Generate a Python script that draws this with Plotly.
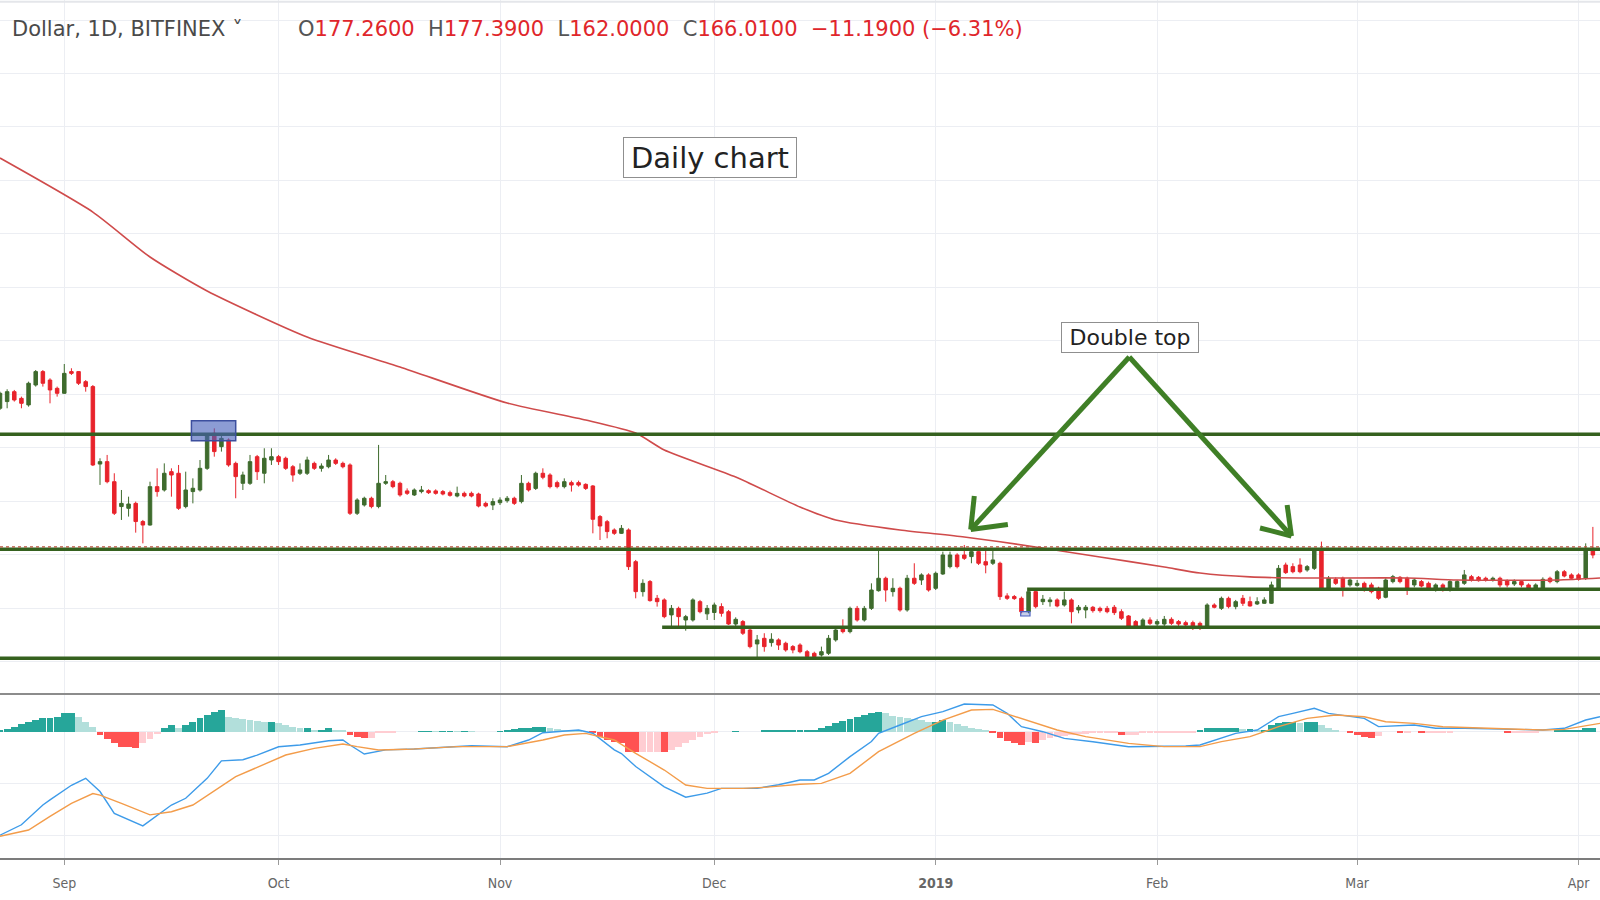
import pandas as pd
import plotly.graph_objects as go
from plotly.subplots import make_subplots

# ---------------- data ----------------
dates = pd.date_range("2018-08-23", "2019-04-03", freq="D")

open_ = [269.7, 274.7, 282.1, 277.1, 272.2, 287.1, 297.1, 290.8, 284.6, 280.9,
         297.1, 297.1, 289.6, 285.9, 228.0, 229.8, 214.8, 196.2, 194.9, 198.6,
         185.0, 182.4, 211.1, 208.6, 222.3, 221.1, 196.2, 207.4, 208.6, 224.8,
         251.0, 241.0, 246.0, 228.5, 213.6, 213.6, 233.5, 221.1, 231.0, 233.5,
         232.3, 226.0, 221.1, 221.1, 228.5, 224.8, 226.0, 231.0, 228.5, 227.3,
         191.2, 197.4, 202.4, 196.2, 213.6, 214.8, 213.6, 207.9, 204.9, 207.4,
         208.1, 207.9, 207.4, 206.6, 204.1, 206.1, 206.1, 205.6, 198.6, 197.4,
         199.1, 200.6, 202.4, 199.9, 213.6, 209.8, 221.1, 219.8, 214.1, 211.1,
         214.1, 214.1, 212.8, 211.6, 188.7, 184.9, 178.7, 176.2, 178.7, 155.0,
         132.6, 140.1, 127.6, 126.4, 115.2, 120.1, 111.4, 111.4, 125.1, 116.0,
         117.0, 121.4, 117.6, 108.4, 110.2, 103.9, 93.5, 97.7, 94.5, 96.5,
         94.0, 91.5, 92.7, 87.7, 86.5, 85.2, 86.5, 96.5, 106.4, 102.7,
         120.1, 111.4, 120.1, 133.3, 142.6, 132.6, 135.1, 118.9, 142.6, 141.3,
         145.1, 135.1, 145.8, 151.3, 160.0, 160.0, 158.8, 162.5, 155.0, 153.8,
         153.8, 129.4, 128.9, 127.6, 117.6, 132.6, 125.1, 125.1, 126.4, 122.6,
         126.4, 118.9, 118.9, 120.9, 120.1, 120.1, 120.9, 117.6, 114.4, 110.2,
         106.9, 111.4, 108.4, 108.4, 111.9, 110.2, 109.4, 109.4, 108.9, 106.4,
         122.6, 120.1, 127.6, 121.4, 127.6, 125.1, 123.4, 123.9, 123.9, 135.1,
         152.5, 151.3, 152.5, 148.8, 150.0, 163.7, 135.1, 141.8, 142.6, 137.6,
         137.3, 138.8, 137.6, 135.1, 128.4, 140.1, 143.3, 142.6, 137.6, 140.1,
         138.8, 135.1, 137.6, 133.8, 135.8, 138.8, 143.8, 143.3, 142.6, 141.3,
         142.6, 140.8, 138.3, 140.1, 137.6, 135.1, 134.3, 142.6, 140.1, 147.5,
         145.1, 145.1, 142.6, 165.0]
high = [282.1, 283.9, 283.4, 278.4, 289.6, 298.3, 298.3, 292.1, 285.9, 302.8,
        299.6, 297.5, 290.8, 287.1, 232.3, 234.8, 221.1, 208.6, 203.6, 199.9,
        186.2, 214.8, 224.8, 228.5, 224.8, 227.3, 222.3, 217.3, 231.0, 251.0,
        254.7, 249.7, 247.2, 229.8, 222.3, 234.8, 234.8, 239.8, 239.8, 234.8,
        233.5, 227.3, 228.5, 233.5, 229.8, 228.5, 234.8, 232.3, 229.8, 228.5,
        202.4, 203.6, 203.6, 242.3, 219.8, 216.1, 214.8, 209.8, 209.8, 211.6,
        209.1, 209.1, 208.6, 208.1, 211.1, 207.4, 207.4, 206.6, 199.9, 202.4,
        203.1, 204.1, 203.6, 219.8, 214.8, 222.3, 224.8, 221.1, 215.6, 217.3,
        215.6, 215.6, 213.6, 212.3, 189.9, 186.2, 179.9, 182.4, 179.9, 156.3,
        141.8, 141.3, 130.1, 127.6, 122.6, 121.4, 115.2, 127.6, 126.4, 122.6,
        124.4, 123.9, 118.9, 113.4, 111.4, 105.2, 100.2, 101.5, 101.5, 97.7,
        95.2, 92.7, 94.0, 89.0, 87.7, 91.5, 100.2, 106.4, 111.9, 121.4,
        121.9, 121.9, 138.8, 163.8, 143.8, 142.6, 136.3, 145.1, 153.8, 146.3,
        146.3, 147.6, 162.5, 162.5, 161.3, 167.5, 165.0, 163.8, 165.0, 164.2,
        155.0, 131.4, 130.1, 128.9, 135.1, 133.8, 130.1, 128.4, 127.6, 132.6,
        127.6, 122.6, 122.6, 121.9, 121.4, 121.9, 122.6, 119.4, 115.1, 111.4,
        112.7, 113.4, 111.9, 114.4, 113.4, 111.4, 110.9, 110.9, 110.2, 123.9,
        123.9, 128.9, 128.9, 126.4, 130.1, 128.9, 128.4, 128.4, 140.1, 152.5,
        154.3, 153.8, 157.5, 152.5, 165.0, 170.0, 144.3, 143.3, 143.8, 142.6,
        141.3, 140.1, 139.3, 136.3, 142.6, 145.1, 144.3, 143.8, 142.6, 141.3,
        140.1, 138.8, 138.8, 141.3, 141.3, 148.8, 145.1, 144.3, 143.8, 143.8,
        143.8, 141.8, 141.8, 141.3, 138.8, 138.8, 143.3, 143.8, 148.8, 148.8,
        146.3, 146.3, 168.7, 181.0]
low = [268.4, 269.7, 274.7, 269.7, 270.9, 285.9, 285.9, 273.4, 278.4, 280.5,
       294.6, 287.1, 282.1, 226.5, 212.4, 213.6, 189.9, 186.2, 188.7, 176.7,
       168.7, 182.0, 203.6, 207.4, 203.6, 193.7, 194.9, 198.6, 207.4, 223.6,
       233.5, 237.3, 226.0, 202.4, 208.6, 212.4, 216.1, 213.6, 227.3, 227.3,
       223.6, 214.8, 219.8, 219.8, 223.6, 222.3, 224.8, 227.3, 224.8, 189.9,
       189.9, 196.2, 194.9, 194.9, 212.4, 209.9, 203.6, 204.9, 204.1, 206.1,
       205.6, 205.1, 204.6, 203.6, 203.1, 203.1, 203.1, 195.6, 195.6, 193.6,
       197.4, 199.1, 197.4, 198.6, 207.4, 208.6, 216.6, 209.8, 209.8, 209.8,
       207.4, 211.1, 208.6, 176.2, 171.2, 172.5, 175.0, 175.7, 148.8, 127.6,
       128.9, 125.1, 121.4, 112.7, 106.4, 106.4, 103.4, 110.2, 116.4, 111.4,
       111.4, 113.9, 107.7, 106.4, 100.2, 90.2, 82.7, 87.7, 91.5, 89.0,
       87.7, 86.5, 86.5, 83.5, 83.5, 84.0, 85.2, 95.2, 101.4, 101.4,
       110.2, 110.2, 118.9, 132.6, 125.1, 128.9, 117.6, 117.6, 137.6, 137.6,
       132.6, 133.8, 145.1, 150.0, 150.0, 156.3, 153.8, 152.5, 146.3, 152.5,
       126.4, 126.4, 126.4, 116.4, 116.4, 120.1, 122.6, 121.4, 120.9, 121.4,
       108.9, 116.4, 112.7, 116.9, 116.9, 116.4, 115.1, 111.4, 105.2, 105.9,
       106.4, 107.7, 106.9, 106.9, 107.7, 106.9, 106.9, 103.9, 103.9, 105.2,
       120.1, 118.9, 120.1, 119.4, 121.9, 121.4, 122.6, 123.4, 123.4, 133.8,
       145.8, 146.3, 146.3, 147.5, 148.8, 133.8, 133.8, 137.6, 128.9, 136.3,
       136.3, 132.6, 131.3, 126.4, 127.6, 138.8, 138.8, 130.1, 135.8, 135.8,
       133.8, 132.6, 132.6, 132.6, 134.3, 137.6, 140.1, 140.1, 140.1, 140.1,
       135.8, 135.8, 136.8, 135.8, 133.3, 133.8, 133.8, 138.8, 138.8, 143.3,
       141.8, 140.8, 141.3, 157.5]
close = [280.9, 282.1, 275.9, 273.4, 288.4, 297.1, 288.4, 283.4, 280.9, 295.8,
         295.8, 288.4, 285.9, 227.3, 229.8, 214.8, 191.2, 198.6, 198.1, 185.0,
         182.4, 211.1, 207.4, 221.1, 219.8, 194.9, 208.6, 209.9, 224.8, 249.7,
         237.3, 247.2, 227.3, 218.6, 219.8, 229.8, 222.3, 232.3, 233.5, 229.8,
         224.8, 219.8, 223.6, 231.0, 224.8, 226.5, 231.0, 228.5, 226.0, 191.2,
         201.1, 202.4, 196.2, 213.6, 214.8, 211.1, 204.9, 206.1, 208.6, 208.6,
         206.6, 206.1, 205.6, 204.6, 206.1, 204.1, 204.1, 196.6, 196.6, 199.9,
         201.1, 202.4, 198.6, 213.6, 208.6, 221.1, 218.1, 211.1, 211.1, 214.8,
         212.3, 212.3, 209.8, 186.7, 181.7, 177.5, 176.2, 179.9, 151.3, 132.6,
         138.8, 125.9, 125.1, 113.9, 120.1, 113.9, 113.9, 126.4, 117.6, 120.1,
         122.6, 116.4, 108.4, 111.9, 101.5, 91.5, 96.5, 91.5, 97.0, 92.7,
         89.0, 89.0, 87.7, 84.0, 84.0, 87.7, 97.7, 103.9, 102.7, 120.1,
         111.4, 120.1, 133.8, 142.6, 133.8, 135.1, 118.9, 142.6, 138.8, 145.1,
         133.8, 146.3, 160.0, 160.0, 151.3, 157.5, 162.5, 153.8, 152.5, 156.3,
         128.9, 127.6, 127.4, 117.6, 132.6, 121.4, 126.9, 126.4, 121.9, 126.4,
         117.6, 120.9, 120.9, 118.4, 118.4, 117.6, 116.9, 112.7, 106.4, 106.9,
         111.4, 108.9, 110.2, 111.9, 108.9, 108.4, 107.7, 105.2, 105.2, 122.6,
         120.9, 127.6, 121.4, 125.1, 123.9, 121.9, 125.1, 126.4, 137.6, 150.0,
         146.8, 147.5, 147.5, 151.3, 163.7, 135.1, 142.6, 138.8, 135.8, 141.3,
         138.8, 133.8, 132.6, 127.6, 141.3, 143.8, 140.1, 133.8, 141.3, 136.8,
         135.1, 137.6, 133.8, 140.1, 140.1, 145.1, 141.3, 140.8, 141.3, 142.6,
         137.6, 137.6, 140.1, 137.6, 134.3, 137.6, 141.8, 140.1, 147.5, 144.3,
         142.6, 141.8, 165.0, 160.0]

macd_hist = [0.19, 0.51, 0.96, 1.41, 1.92, 2.31, 2.56, 2.69, 2.88, 3.53,
             3.53, 2.88, 1.92, 0.96, -0.64, -1.41, -2.24, -2.88, -3.01, -3.08,
             -2.24, -1.41, -0.51, 0.64, 1.28, 0.64, 1.28, 1.92, 2.56, 3.21,
             3.85, 4.17, 2.88, 2.56, 2.44, 2.24, 2.05, 1.92, 1.92, 1.60,
             1.28, 0.96, 0.64, 0.64, 0.32, 0.32, 0.64, 0.32, 0.26, -0.64,
             -0.96, -1.28, -1.15, -0.32, -0.26, -0.13, 0.0, 0.0, 0.0, 0.13,
             0.13, 0.06, 0.13, 0.13, 0.06, 0.13, 0.06, 0.0, 0.0, 0.0,
             0.13, 0.32, 0.51, 0.64, 0.77, 0.96, 0.96, 0.64, 0.51, 0.32,
             0.19, 0.06, 0.0, -0.32, -0.96, -1.60, -1.92, -2.24, -3.85, -3.97,
             -3.85, -3.85, -3.85, -3.97, -3.53, -2.88, -2.24, -1.60, -0.96, -0.51,
             -0.19, 0.0, 0.0, 0.13, 0.0, 0.0, 0.0, 0.19, 0.19, 0.19,
             0.19, 0.19, 0.19, 0.19, 0.32, 0.64, 1.15, 1.60, 2.05, 2.44,
             2.82, 3.21, 3.53, 3.85, 3.53, 3.08, 2.88, 2.56, 2.44, 2.24,
             1.92, 1.92, 2.24, 1.79, 1.41, 1.03, 0.77, 0.51, 0.32, -0.32,
             -1.15, -1.79, -2.24, -2.56, -1.92, -2.24, -1.60, -1.28, -0.96, -0.77,
             -0.64, -0.51, -0.38, -0.32, -0.26, -0.19, -0.19, -0.64, -0.64, -0.64,
             -0.19, -0.19, -0.19, -0.13, -0.13, -0.13, -0.13, -0.06, 0.32, 0.64,
             0.64, 0.64, 0.64, 0.64, 0.51, 0.51, 0.38, 0.38, 1.28, 1.60,
             1.79, 1.92, 1.60, 1.92, 1.92, 1.28, 0.77, 0.32, 0.0, -0.32,
             -0.64, -0.96, -1.28, -0.77, 0.0, 0.0, -0.32, -0.32, 0.0, -0.32,
             -0.32, -0.32, -0.32, -0.32, 0.0, 0.0, 0.0, 0.0, 0.0, 0.0,
             0.0, -0.32, -0.32, -0.32, -0.32, -0.32, 0.0, 0.0, 0.19, 0.32,
             0.32, 0.32, 0.64, 0.64]

ma_dates = ["2018-08-23", "2018-09-05", "2018-09-13", "2018-09-21", "2018-10-05",
            "2018-10-18", "2018-11-02", "2018-11-13", "2018-11-20", "2018-11-24",
            "2018-12-04", "2018-12-13", "2018-12-18", "2018-12-27", "2019-01-05",
            "2019-01-15", "2019-01-24", "2019-02-02", "2019-02-07", "2019-02-14",
            "2019-02-21", "2019-03-08", "2019-03-15", "2019-03-29", "2019-04-04"]
ma_values = [456.8, 416.4, 382.8, 357.4, 323.0, 300.6, 273.6, 260.9, 251.2, 238.5,
             218.3, 195.9, 186.2, 178.7, 173.5, 166.0, 158.5, 151.0, 146.5, 143.6,
             142.8, 142.8, 141.3, 141.3, 142.8]

macd_dates = ["2018-08-23", "2018-08-26", "2018-08-29", "2018-08-30", "2018-09-02",
              "2018-09-04", "2018-09-06", "2018-09-08", "2018-09-12", "2018-09-16",
              "2018-09-18", "2018-09-21", "2018-09-23", "2018-09-26", "2018-09-28",
              "2018-10-01", "2018-10-04", "2018-10-08", "2018-10-10", "2018-10-11",
              "2018-10-13", "2018-10-16", "2018-10-20", "2018-10-23", "2018-10-28",
              "2018-11-02", "2018-11-05", "2018-11-07", "2018-11-10", "2018-11-12",
              "2018-11-14", "2018-11-17", "2018-11-18", "2018-11-20", "2018-11-24",
              "2018-11-27", "2018-11-30", "2018-12-02", "2018-12-07", "2018-12-10",
              "2018-12-13", "2018-12-15", "2018-12-17", "2018-12-20", "2018-12-23",
              "2018-12-24", "2018-12-27", "2018-12-30", "2019-01-02", "2019-01-05",
              "2019-01-09", "2019-01-11", "2019-01-13", "2019-01-16", "2019-01-19",
              "2019-01-23", "2019-01-28", "2019-02-01", "2019-02-05", "2019-02-07",
              "2019-02-10", "2019-02-12", "2019-02-15", "2019-02-18", "2019-02-20",
              "2019-02-23", "2019-02-25", "2019-03-02", "2019-03-04", "2019-03-09",
              "2019-03-12", "2019-03-16", "2019-03-23", "2019-03-27", "2019-03-30",
              "2019-04-02", "2019-04-04"]
macd_values = [-19.9, -17.9, -14.1, -13.1, -10.3, -8.97, -11.5, -15.7, -18.1, -14.1,
               -12.8, -8.97, -5.6, -5.4, -4.5, -2.9, -2.56, -1.73, -1.6, -2.56,
               -4.3, -3.5, -3.33, -3.07, -2.69, -2.88, -1.6, -0.19, 0.2, 0.33,
               -0.3, -3.5, -4.2, -6.7, -10.6, -12.6, -11.8, -10.9, -10.9, -10.2,
               -9.29, -9.29, -8.0, -4.8, -1.9, -0.32, 1.29, 2.89, 3.85, 5.33,
               5.13, 3.53, 0.97, 0.0, -1.28, -1.92, -2.88, -2.88, -2.75, -2.56,
               -1.28, -0.32, 0.33, 2.89, 3.53, 4.49, 3.53, 2.56, 0.97, 1.29,
               0.65, 0.65, 0.45, 0.33, 0.65, 2.24, 2.89]

signal_dates = ["2018-08-23", "2018-08-27", "2018-08-30", "2018-09-02", "2018-09-05",
                "2018-09-06", "2018-09-09", "2018-09-13", "2018-09-16", "2018-09-19",
                "2018-09-25", "2018-09-28", "2018-10-02", "2018-10-06", "2018-10-10",
                "2018-10-12", "2018-10-15", "2018-10-19", "2018-10-26", "2018-11-02",
                "2018-11-07", "2018-11-10", "2018-11-13", "2018-11-17", "2018-11-20",
                "2018-11-24", "2018-11-27", "2018-11-30", "2018-12-05", "2018-12-08",
                "2018-12-13", "2018-12-16", "2018-12-20", "2018-12-24", "2018-12-29",
                "2019-01-02", "2019-01-06", "2019-01-09", "2019-01-13", "2019-01-18",
                "2019-01-22", "2019-01-28", "2019-02-02", "2019-02-07", "2019-02-10",
                "2019-02-14", "2019-02-18", "2019-02-22", "2019-02-26", "2019-03-02",
                "2019-03-05", "2019-03-09", "2019-03-13", "2019-03-19", "2019-03-27",
                "2019-03-30", "2019-04-04"]
signal_values = [-20.1, -18.9, -16.3, -13.8, -11.9, -12.2, -13.8, -16.0, -15.4, -14.1,
                 -8.65, -6.85, -4.48, -3.2, -2.37, -2.88, -3.52, -3.39, -2.88, -2.88,
                 -1.6, -0.64, -0.32, -1.6, -4.16, -7.37, -10.25, -10.9, -10.9, -10.7,
                 -10.1, -9.93, -8.0, -3.85, -0.32, 2.24, 4.17, 4.3, 2.56, 0.32,
                 -0.96, -2.24, -2.88, -2.88, -1.92, -0.96, 0.97, 2.56, 3.2, 2.88,
                 1.92, 1.6, 0.96, 0.65, 0.33, 0.45, 1.6]

level_prices = [250.3, 164.3, 134.4, 106.0, 82.8]
level_starts = ["2018-08-23", "2018-08-23", "2019-01-13 19:12", "2018-11-23 16:48", "2018-08-23"]
last_price = 166.01

month_ticks = ["2018-09-01", "2018-10-01", "2018-11-01", "2018-12-01",
               "2019-01-01", "2019-02-01", "2019-03-01", "2019-04-01"]
month_labels = ["Sep", "Oct", "Nov", "Dec", "<b>2019</b>", "Feb", "Mar", "Apr"]
price_grid = [80, 120, 160, 200, 240, 280, 320, 360, 400, 440, 480, 520, 560]
macd_grid = [0, -10, -20]

# ---------------- styling ----------------
X0, X1 = "2018-08-23 00:00", "2019-04-04 00:00"
UP, DOWN = "#3e6b2d", "#e8232b"
LEVEL = "#35611f"
ARROW = "#3f7f26"
GRID = "#eceef3"
SPLIT = 0.19209

fig = make_subplots(rows=2, cols=1, shared_xaxes=True, vertical_spacing=0)

fig.add_trace(go.Candlestick(
    x=dates, open=open_, high=high, low=low, close=close,
    increasing=dict(line=dict(color=UP, width=1), fillcolor=UP),
    decreasing=dict(line=dict(color=DOWN, width=1), fillcolor=DOWN),
    whiskerwidth=0, hoverinfo="skip"), row=1, col=1)

fig.add_trace(go.Scatter(x=ma_dates, y=ma_values, mode="lines",
                         line=dict(color="#cf4b4b", width=1.6, shape="spline", smoothing=0.6),
                         hoverinfo="skip"), row=1, col=1)

hist_colors = []
prev = 0.0
for h in macd_hist:
    if h >= 0:
        hist_colors.append("#26a69a" if h >= prev else "#b2dfdb")
    else:
        hist_colors.append("#ff5252" if h < prev else "#ffcdd2")
    prev = h

fig.add_trace(go.Bar(x=dates, y=macd_hist, marker=dict(color=hist_colors, line=dict(width=0)),
                     width=86400000 * 0.95, hoverinfo="skip"), row=2, col=1)
fig.add_trace(go.Scatter(x=macd_dates, y=macd_values, mode="lines",
                         line=dict(color="#3d9be9", width=1.4), hoverinfo="skip"), row=2, col=1)
fig.add_trace(go.Scatter(x=signal_dates, y=signal_values, mode="lines",
                         line=dict(color="#f39c4a", width=1.4), hoverinfo="skip"), row=2, col=1)

shapes = []
# horizontal support / resistance lines
for start, lvl in zip(level_starts, level_prices):
    shapes.append(dict(type="line", xref="x", yref="y", x0=start, x1=X1, y0=lvl, y1=lvl,
                       line=dict(color=LEVEL, width=3.5)))
# last price dotted line
shapes.append(dict(type="line", xref="x", yref="y", x0=X0, x1=X1, y0=last_price, y1=last_price,
                   line=dict(color="#b8523c", width=1.2, dash="dot")))
# blue highlight box
shapes.append(dict(type="rect", xref="x", yref="y", x0="2018-09-18 19:12", x1="2018-09-25 00:00",
                   y0=245.5, y1=260.4, fillcolor="rgba(70,96,185,0.62)",
                   line=dict(color="#3c4f9e", width=1.5)))
shapes.append(dict(type="rect", xref="x", yref="y", x0="2019-01-12 21:36", x1="2019-01-14 04:48",
                   y0=114.4, y1=117.6, fillcolor="rgba(70,96,185,0.3)",
                   line=dict(color="#4a60c0", width=1.2)))
# double-top arrows
apex = ("2019-01-28 02:24", 308.0)
arrow_segments = [
    (apex, ("2019-01-05 21:36", 179.0)),
    (("2019-01-05 21:36", 179.0), ("2019-01-06 09:36", 204.1)),
    (("2019-01-05 21:36", 179.0), ("2019-01-11 02:24", 182.8)),
    (apex, ("2019-02-19 19:12", 174.2)),
    (("2019-02-19 19:12", 174.2), ("2019-02-19 04:48", 197.4)),
    (("2019-02-19 19:12", 174.2), ("2019-02-15 09:36", 180.2)),
]
for (xa, ya), (xb, yb) in arrow_segments:
    shapes.append(dict(type="line", xref="x", yref="y", x0=xa, y0=ya, x1=xb, y1=yb,
                       line=dict(color=ARROW, width=5)))
# pane separators
shapes.append(dict(type="line", xref="paper", yref="paper", x0=0, x1=1, y0=SPLIT, y1=SPLIT,
                   line=dict(color="#8c8c8c", width=2)))
shapes.append(dict(type="line", xref="paper", yref="paper", x0=0, x1=1, y0=0, y1=0,
                   line=dict(color="#7c7c7c", width=2)))
shapes.append(dict(type="line", xref="paper", yref="paper", x0=0, x1=1, y0=0.998, y1=0.998,
                   line=dict(color="#e4e6ea", width=2)))

G = "#555555"
R = "#e0262b"
ohlc_text = (f"O<span style='color:{R}'>177.2600</span>\u00a0 H<span style='color:{R}'>177.3900</span>\u00a0 "
             f"L<span style='color:{R}'>162.0000</span>\u00a0 C<span style='color:{R}'>166.0100</span>\u00a0 "
             f"<span style='color:{R}'>\u221211.1900 (\u22126.31%)</span>")

annotations = [
    dict(xref="paper", yref="paper", x=10 / 1600, y=1 - 28.6 / 859, xanchor="left", yanchor="middle",
         text="Dollar, 1D, BITFINEX \u02c5", showarrow=False,
         font=dict(family="DejaVu Sans", size=21, color="#4a4a4a")),
    dict(xref="paper", yref="paper", x=296 / 1600, y=1 - 28.6 / 859, xanchor="left", yanchor="middle",
         text=ohlc_text, showarrow=False,
         font=dict(family="DejaVu Sans", size=21, color=G)),
    dict(xref="x", yref="y", x="2018-11-30 09:36", y=457.2, text="Daily chart", showarrow=False,
         font=dict(family="DejaVu Sans", size=29, color="#222222"),
         bgcolor="white", bordercolor="#8f8f8f", borderwidth=1, borderpad=1, width=170, height=37),
    dict(xref="x", yref="y", x="2019-01-28 04:48", y=322.3, text="Double top", showarrow=False,
         font=dict(family="DejaVu Sans", size=22, color="#222222"),
         bgcolor="white", bordercolor="#8f8f8f", borderwidth=1, borderpad=1, width=134, height=27),
]

fig.update_layout(
    width=1600, height=900,
    margin=dict(l=0, r=0, t=0, b=41),
    paper_bgcolor="white", plot_bgcolor="white",
    showlegend=False, hovermode=False, bargap=0,
    shapes=shapes, annotations=annotations,
    font=dict(family="DejaVu Sans"),
)
fig.update_xaxes(range=[X0, X1], tickvals=month_ticks, ticktext=month_labels,
                 showgrid=True, gridcolor=GRID, gridwidth=1, zeroline=False,
                 rangeslider_visible=False, showline=False)
fig.update_xaxes(showticklabels=False, ticks="", row=1, col=1)
fig.update_xaxes(showticklabels=True, ticks="outside", ticklen=5, tickcolor="#9a9a9a",
                 tickfont=dict(family="DejaVu Sans Condensed", size=14, color="#666666"),
                 ticklabelstandoff=6, row=2, col=1)
fig.update_layout(
    yaxis=dict(domain=[SPLIT, 1], range=[56.07, 574.95], tickvals=price_grid, showticklabels=False,
               showgrid=True, gridcolor=GRID, gridwidth=1, zeroline=False, ticks=""),
    yaxis2=dict(domain=[0, SPLIT], range=[-24.48, 7.25], tickvals=macd_grid, showticklabels=False,
                showgrid=True, gridcolor=GRID, gridwidth=1, zeroline=False, ticks=""),
)

fig.write_html("out.html", config={"displayModeBar": False})
